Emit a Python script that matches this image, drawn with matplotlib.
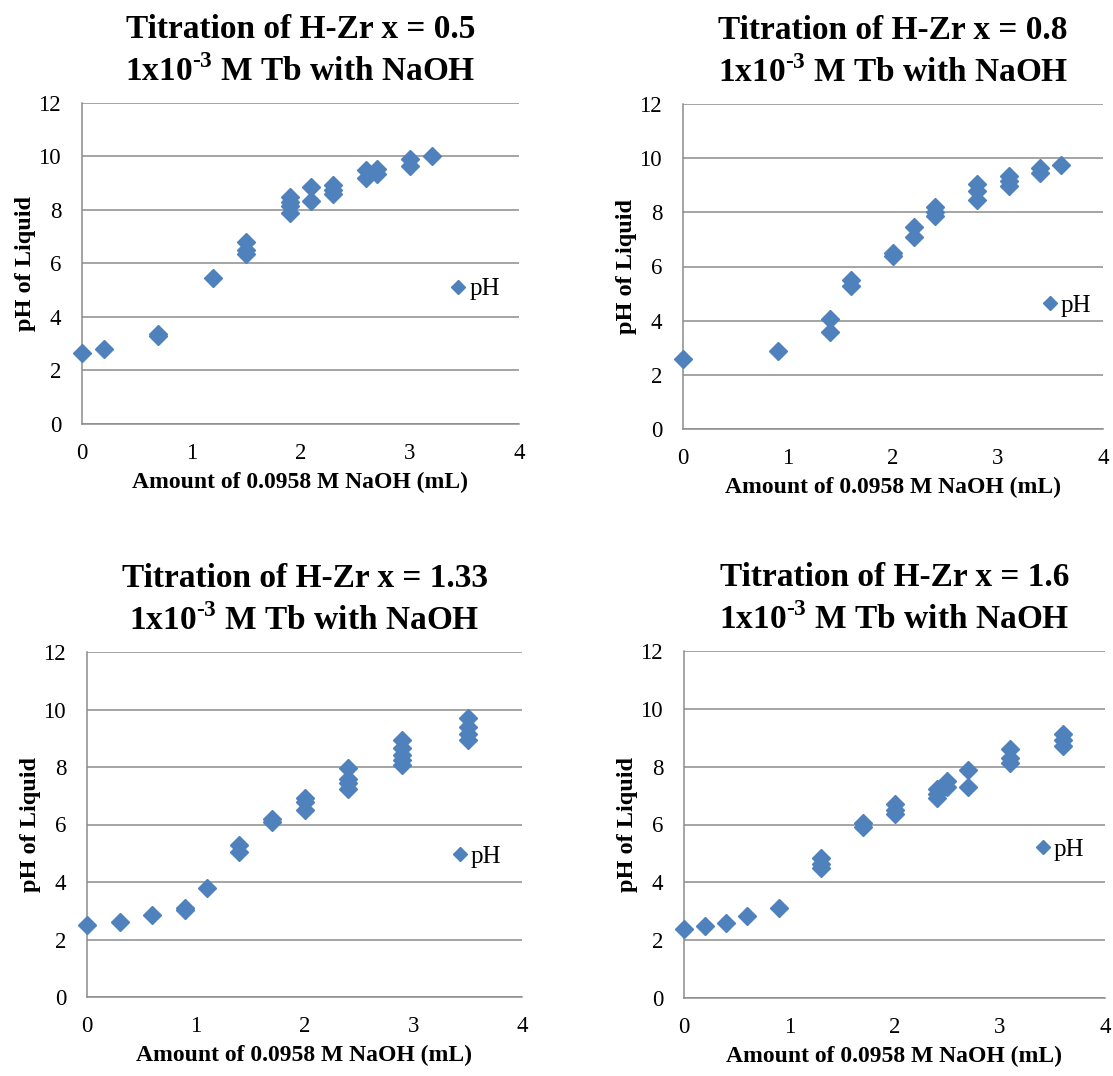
import matplotlib
matplotlib.use("Agg")
import matplotlib.pyplot as plt

plt.rcParams["font.family"] = ["Liberation Serif", "DejaVu Serif"]
plt.rcParams["mathtext.fontset"] = "custom"
plt.rcParams["mathtext.rm"] = "Liberation Serif:bold"
plt.rcParams["mathtext.bf"] = "Liberation Serif:bold"

# data
x_05 = [0, 0.2, 0.7, 0.7, 1.2, 1.5, 1.5, 1.5, 1.9, 1.9, 1.9, 1.9, 2.1, 2.1,
        2.3, 2.3, 2.3, 2.6, 2.6, 2.7, 2.7, 3.0, 3.0, 3.2]
ph_05 = [2.64, 2.79, 3.30, 3.35, 5.44, 6.8, 6.5, 6.35, 8.5, 8.3, 8.15, 7.9, 8.85, 8.35,
         8.95, 8.75, 8.6, 9.5, 9.2, 9.55, 9.35, 9.9, 9.65, 10.0]

x_08 = [0, 0.9, 1.4, 1.4, 1.6, 1.6, 2.0, 2.0, 2.2, 2.2, 2.4, 2.4, 2.4,
        2.8, 2.8, 2.8, 3.1, 3.1, 3.1, 3.4, 3.4, 3.6]
ph_08 = [2.57, 2.89, 4.05, 3.6, 5.5, 5.28, 6.5, 6.4, 7.45, 7.1, 8.2, 8.0, 7.88,
         9.05, 8.8, 8.47, 9.35, 9.15, 8.97, 9.62, 9.45, 9.73]

x_133 = [0, 0.3, 0.6, 0.9, 0.9, 1.1, 1.4, 1.4, 1.7, 1.7, 2.0, 2.0, 2.0,
         2.4, 2.4, 2.4, 2.4, 2.9, 2.9, 2.9, 2.9, 2.9, 3.5, 3.5, 3.5, 3.5]
ph_133 = [2.5, 2.61, 2.84, 3.02, 3.1, 3.79, 5.3, 5.05, 6.18, 6.09, 6.92, 6.78, 6.5,
          7.98, 7.6, 7.43, 7.25, 8.95, 8.65, 8.42, 8.23, 8.08, 9.7, 9.4, 9.15, 8.95]

x_16 = [0, 0.2, 0.4, 0.6, 0.9, 1.3, 1.3, 1.3, 1.7, 1.7, 2.0, 2.0, 2.0,
        2.4, 2.4, 2.4, 2.5, 2.5, 2.7, 2.7, 3.1, 3.1, 3.1, 3.6, 3.6, 3.6]
ph_16 = [2.4, 2.49, 2.61, 2.84, 3.12, 4.85, 4.65, 4.5, 6.05, 5.9, 6.7, 6.5, 6.35,
         7.22, 7.06, 6.92, 7.49, 7.31, 7.89, 7.31, 8.62, 8.3, 8.12, 9.12, 8.92, 8.72]

titles = ["Titration of H-Zr x = 0.5", "Titration of H-Zr x = 0.8",
          "Titration of H-Zr x = 1.33", "Titration of H-Zr x = 1.6"]
subtitle = r"1x10$^{\text{-3}}$ M Tb with NaOH"

W, H = 1113, 1076
fig = plt.figure(figsize=(W / 100, H / 100), dpi=100)

# axes boxes in pixels: left, right, top, bottom
boxes = [(82, 519, 103, 424), (683, 1103, 104, 429),
         (87, 522, 652, 997), (684, 1105, 651, 998)]
legend_pos = [(0.86, 0.42), (0.871, 0.379), (0.855, 0.406), (0.85, 0.428)]
datasets = [(x_05, ph_05), (x_08, ph_08), (x_133, ph_133), (x_16, ph_16)]

blue = "#4F81BD"
grid_c = "#8C8C8C"

for i in range(4):
    l, r, t, b = boxes[i]
    ax = fig.add_axes([l / W, 1 - b / H, (r - l) / W, (b - t) / H])
    xs, ys = datasets[i]
    ax.plot(xs, ys, linestyle="none", marker="D", markersize=9.5,
            color=blue, label="pH", clip_on=False, zorder=3)
    ax.set_xlim(0, 4)
    ax.set_ylim(0, 12)
    ax.set_xticks([0, 1, 2, 3, 4])
    ax.set_yticks(range(0, 13, 2))
    ax.yaxis.grid(True, color=grid_c, linewidth=1.1)
    ax.set_axisbelow(True)
    for s in ["top", "right"]:
        ax.spines[s].set_visible(False)
    for s in ["left", "bottom"]:
        ax.spines[s].set_color(grid_c)
        ax.spines[s].set_linewidth(1.1)
    ax.tick_params(length=0, labelsize=16.5)
    ax.tick_params(axis="x", pad=14)
    ax.tick_params(axis="y", pad=15)
    ax.set_xlabel("Amount of 0.0958 M NaOH (mL)", fontsize=17,
                  fontweight="bold", labelpad=5)
    ax.set_ylabel("pH of Liquid", fontsize=17.5, fontweight="bold", labelpad=2)
    ax.set_title(titles[i] + "\n" + subtitle, fontsize=24, fontweight="bold",
                 pad=16, linespacing=1.4)
    lx, ly = legend_pos[i]
    ax.legend(loc="center left", bbox_to_anchor=(lx - 0.02, ly), frameon=False,
              fontsize=18, handlelength=0.75, handletextpad=0.05, borderpad=0,
              borderaxespad=0, markerscale=0.8)

fig.savefig("out.png", dpi=100)
